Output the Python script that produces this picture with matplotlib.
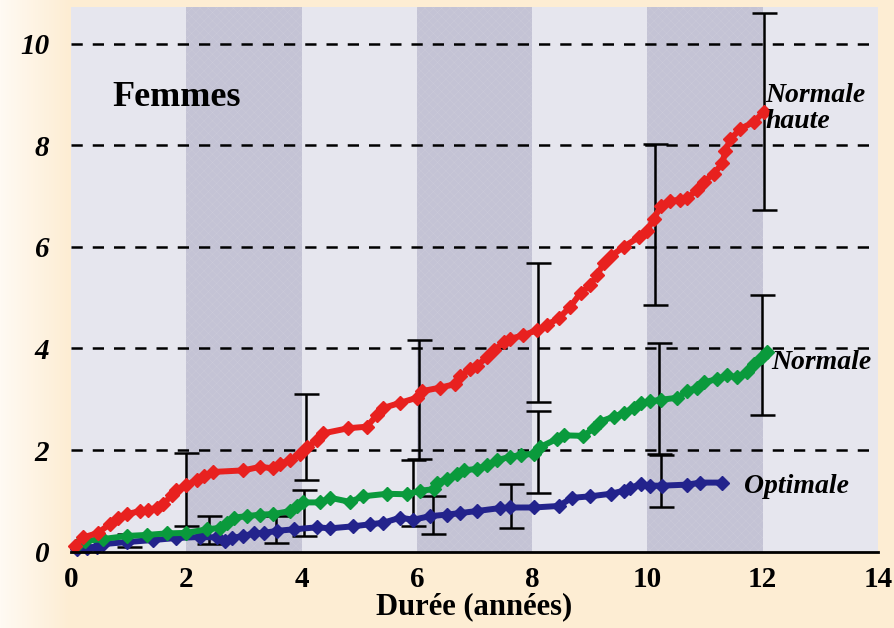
import numpy as np
import matplotlib
matplotlib.use("Agg")
import matplotlib.pyplot as plt
from matplotlib.colors import to_rgb

# ---------------- data ----------------
red_x = [0.07, 0.21, 0.47, 0.68, 0.82, 0.97, 1.2, 1.34, 1.49, 1.6, 1.75, 1.83, 2.0, 2.18, 2.3, 2.47,
         2.99, 3.28, 3.51, 3.63, 3.8, 3.98, 4.09, 4.27, 4.38, 4.81, 5.13, 5.31, 5.42, 5.71, 6.0, 6.09,
         6.41, 6.67, 6.75, 6.93, 7.04, 7.22, 7.33, 7.51, 7.62, 7.85, 8.08, 8.26, 8.46, 8.66, 8.84, 9.01,
         9.13, 9.24, 9.36, 9.59, 9.85, 9.99, 10.11, 10.23, 10.4, 10.57, 10.69, 10.86, 10.98, 11.15,
         11.3, 11.35, 11.44, 11.61, 11.85, 12.02]
red_y = [0.12, 0.28, 0.37, 0.55, 0.67, 0.74, 0.8, 0.83, 0.86, 0.93, 1.12, 1.22, 1.31, 1.41, 1.48, 1.57,
         1.6, 1.67, 1.64, 1.73, 1.8, 1.93, 2.06, 2.19, 2.33, 2.43, 2.46, 2.69, 2.83, 2.93, 3.03, 3.16,
         3.23, 3.3, 3.45, 3.6, 3.66, 3.83, 3.96, 4.12, 4.19, 4.26, 4.36, 4.47, 4.59, 4.82, 5.09, 5.25,
         5.45, 5.68, 5.81, 6.0, 6.19, 6.32, 6.55, 6.8, 6.9, 6.93, 6.96, 7.12, 7.28, 7.44,
         7.64, 7.89, 8.12, 8.32, 8.46, 8.66]

green_x = [0.13, 0.24, 0.56, 0.97, 1.31, 1.66, 2.0, 2.36, 2.59, 2.7, 2.82, 3.05, 3.28, 3.51, 3.8, 3.92,
           4.03, 4.32, 4.5, 4.84, 5.07, 5.48, 5.83, 6.06, 6.29, 6.35, 6.52, 6.7, 6.81, 7.04, 7.22, 7.39,
           7.62, 7.8, 8.03, 8.14, 8.43, 8.55, 8.89, 9.07, 9.18, 9.42, 9.59, 9.76, 9.88, 10.05, 10.23,
           10.52, 10.69, 10.86, 10.98, 11.21, 11.38, 11.56, 11.73, 11.85, 11.99, 12.08]
green_y = [0.15, 0.21, 0.25, 0.31, 0.33, 0.36, 0.37, 0.44, 0.47, 0.57, 0.67, 0.7, 0.73, 0.74, 0.8, 0.9,
           0.97, 0.97, 1.06, 0.98, 1.09, 1.14, 1.13, 1.2, 1.23, 1.36, 1.43, 1.53, 1.6, 1.63, 1.7, 1.8,
           1.87, 1.9, 1.93, 2.06, 2.22, 2.29, 2.28, 2.43, 2.56, 2.66, 2.73, 2.83, 2.93, 2.96, 2.99,
           3.03, 3.16, 3.23, 3.33, 3.4, 3.47, 3.43, 3.53, 3.7, 3.83, 3.93]

blue_x = [0.1, 0.27, 0.45, 0.56, 0.97, 1.43, 1.83, 2.24, 2.53, 2.67, 2.79, 2.99, 3.17, 3.34, 3.57, 3.86,
          4.27, 4.5, 4.9, 5.19, 5.42, 5.71, 5.94, 6.23, 6.52, 6.75, 7.04, 7.45, 7.62, 8.03, 8.46, 8.69,
          9.01, 9.36, 9.59, 9.7, 9.88, 10.05, 10.26, 10.69, 10.92, 11.3]
blue_y = [0.05, 0.08, 0.1, 0.15, 0.19, 0.23, 0.27, 0.29, 0.28, 0.21, 0.27, 0.31, 0.36, 0.37, 0.41, 0.44,
          0.48, 0.46, 0.5, 0.54, 0.57, 0.67, 0.63, 0.7, 0.73, 0.76, 0.8, 0.86, 0.87, 0.87, 0.9, 1.06,
          1.09, 1.14, 1.2, 1.25, 1.33, 1.3, 1.3, 1.32, 1.36, 1.36]

# error bars (x, low, high)
red_err_x = [2.0, 4.08, 6.03, 8.1, 10.14, 12.02]
red_err_lo = [0.5, 1.42, 1.83, 2.95, 4.85, 6.72]
red_err_hi = [1.95, 3.1, 4.16, 5.69, 8.02, 10.6]

green_err_x = [2.4, 4.05, 5.94, 8.1, 10.2, 11.98]
green_err_lo = [0.15, 0.3, 0.5, 1.16, 1.93, 2.69]
green_err_hi = [0.7, 1.22, 1.8, 2.77, 4.1, 5.05]

blue_err_x = [1.0, 3.55, 6.28, 7.63, 10.24]
blue_err_lo = [0.1, 0.18, 0.35, 0.47, 0.87]
blue_err_hi = [0.35, 0.7, 1.1, 1.33, 1.9]

x_ticks = [0, 2, 4, 6, 8, 10, 12, 14]
y_ticks = [0, 2, 4, 6, 8, 10]
dark_bands = [(2, 4), (6, 8), (10, 12)]

RED = "#E8211F"
GREEN = "#0A9A3C"
BLUE = "#23238C"
PEACH = "#FDEDD3"
LIGHT_BAND = "#E6E6EE"
DARK_BAND = "#C4C3D5"

SERIF = ["Liberation Serif", "DejaVu Serif"]

# ---------------- figure ----------------
fig = plt.figure(figsize=(8.95, 6.28), dpi=100)
fig.patch.set_facecolor(PEACH)

# background gradient (lighter at left edge)
bg = fig.add_axes([0, 0, 1, 1], zorder=-10)
W = 895
cols = np.linspace(0, 1, W)
c0 = np.array(to_rgb("#FFFAF3"))
c1 = np.array(to_rgb(PEACH))
t = np.clip(cols * W / 70.0, 0, 1)[:, None]
grad = c0 * (1 - t) + c1 * t
bg.imshow(grad[None, :, :], aspect="auto", extent=[0, 1, 0, 1])
bg.set_axis_off()

ax = fig.add_axes([71 / 895, 1 - 551.7 / 628, 807 / 895, (551.7 - 7) / 628])
ax.set_xlim(0, 14)
ax.set_ylim(0, 10.72)
ax.set_facecolor(LIGHT_BAND)

plt.rcParams["hatch.linewidth"] = 0.3
for a, b in dark_bands:
    ax.axvspan(a, b, facecolor=DARK_BAND, edgecolor="none", zorder=0.5)
    ax.axvspan(a, b, facecolor="none", edgecolor="#CCCBDA", hatch="xxxx", linewidth=0, zorder=0.6)

for yv in y_ticks[1:]:
    ax.axhline(yv, color="black", lw=1.8, ls=(0, (4.5, 4)), zorder=1)

for ex, lo, hi in ((red_err_x, red_err_lo, red_err_hi),
                   (green_err_x, green_err_lo, green_err_hi),
                   (blue_err_x, blue_err_lo, blue_err_hi)):
    lo = np.array(lo); hi = np.array(hi)
    mid = (lo + hi) / 2
    ax.errorbar(ex, mid, yerr=(hi - lo) / 2, fmt="none", ecolor="black",
                elinewidth=1.8, capsize=9, capthick=1.8, zorder=2)

for xs, ys, c in ((blue_x, blue_y, BLUE), (green_x, green_y, GREEN), (red_x, red_y, RED)):
    ax.plot(xs, ys, color=c, lw=4.3, marker="D", ms=7.5, mec=c, mfc=c,
            zorder=3, clip_on=False, solid_joinstyle="round")

for s in ("top", "right", "left"):
    ax.spines[s].set_visible(False)
ax.spines["bottom"].set_linewidth(2)
ax.spines["bottom"].set_zorder(4)

ax.set_xticks(x_ticks)
ax.set_yticks(y_ticks)
ax.tick_params(length=0)
ax.tick_params(axis="x", pad=10)
ax.tick_params(axis="y", pad=15.5)
for lab in ax.get_xticklabels():
    lab.set_fontfamily(SERIF); lab.set_fontweight("bold"); lab.set_fontsize(21)
for lab in ax.get_yticklabels():
    lab.set_fontfamily(SERIF); lab.set_fontweight("bold"); lab.set_fontstyle("italic"); lab.set_fontsize(21)

ax.set_xlabel("Durée (années)", family=SERIF, fontweight="bold", fontsize=22, labelpad=0)

ax.text(0.71, 8.93, "Femmes", family=SERIF, fontweight="bold", fontsize=26, va="center", ha="left")
lab_kw = dict(family=SERIF, fontweight="bold", fontstyle="italic", fontsize=20, ha="left", va="center")
ax.text(12.05, 8.72, "Normale\nhaute", linespacing=1.05, **lab_kw)
ax.text(12.14, 3.73, "Normale", **lab_kw)
ax.text(11.68, 1.28, "Optimale", **lab_kw)

fig.savefig("out.png", dpi=100, facecolor=fig.get_facecolor())
